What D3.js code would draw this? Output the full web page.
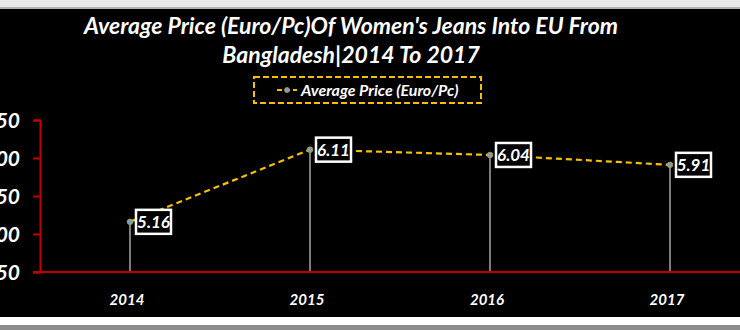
<!DOCTYPE html>
<html>
<head>
<meta charset="utf-8">
<script src="https://cdn.jsdelivr.net/npm/d3@7"></script>
<style>
	body { margin: 0; background: #fff; }
	text { font-family: Lato, "Open Sans", sans-serif; font-weight: bold; font-style: italic; }
</style>
</head>
<body>
<div id="chart"></div>
<script>
// data
var years = ["2014", "2015", "2016", "2017"];
var prices = [5.16, 6.11, 6.04, 5.91];
var yTicks = [4.5, 5.0, 5.5, 6.0, 6.5];
var seriesName = "Average Price (Euro/Pc)";
var titleLines = ["Average Price (Euro/Pc)Of Women's Jeans Into EU From", "Bangladesh|2014 To 2017"];

// magic numbers
var W = 740, H = 330;
var plot = {left: 40, right: 760, top: 120, bottom: 272};

var svg = d3.select("#chart").append("svg")
		.attr("width", W)
		.attr("height", H);

// frame: light strip top, black panel, white strip bottom
svg.append("rect").attr("x", 0).attr("y", 0).attr("width", W).attr("height", H).attr("fill", "#e8e8e8");
svg.append("rect").attr("x", 0).attr("y", 7).attr("width", W).attr("height", 2).attr("fill", "#b0b0b0");
svg.append("rect").attr("x", 0).attr("y", 9).attr("width", W).attr("height", 308).attr("fill", "#000");
svg.append("rect").attr("x", 0).attr("y", 317).attr("width", W).attr("height", 8).attr("fill", "#fff");
svg.append("rect").attr("x", 0).attr("y", 325).attr("width", W).attr("height", 5).attr("fill", "#8c8c8c");

var x = d3.scaleBand()
		.domain(years)
		.range([plot.left, plot.right]);

var y = d3.scaleLinear()
		.domain([4.5, 6.5])
		.range([plot.bottom, plot.top]);

// title
svg.append("g").selectAll("text")
		.data(titleLines)
	.enter().append("text")
		.attr("x", 351)
		.attr("y", function(d, i){ return 34 + i * 29; })
		.attr("text-anchor", "middle")
		.attr("fill", "#fff")
		.attr("font-size", 23)
		.text(function(d){ return d; });

// legend
var legend = svg.append("g").attr("transform", "translate(254,77)");
legend.append("rect")
		.attr("width", 227)
		.attr("height", 26)
		.attr("fill", "none")
		.attr("stroke", "#f5c000")
		.attr("stroke-width", 2)
		.attr("stroke-dasharray", "6,3");
legend.append("line")
		.attr("x1", 23).attr("x2", 43).attr("y1", 13).attr("y2", 13)
		.attr("stroke", "#f5c000").attr("stroke-width", 2).attr("stroke-dasharray", "5,3");
legend.append("circle")
		.attr("cx", 33).attr("cy", 13).attr("r", 2.5)
		.attr("fill", "#6f9fd0").attr("stroke", "#c9a400").attr("stroke-width", 0.8);
legend.append("text")
		.attr("x", 47)
		.attr("y", 19)
		.attr("fill", "#fff")
		.attr("font-size", 16)
		.text(seriesName);

// y axis
var yAxis = svg.append("g")
		.attr("transform", "translate(" + plot.left + ",0)")
		.call(d3.axisLeft(y).tickValues(yTicks).tickFormat(d3.format(".2f")).tickSize(7).tickPadding(13));
yAxis.select(".domain").attr("stroke", "#c00000").attr("stroke-width", 2);
yAxis.selectAll(".tick line").attr("stroke", "#c00000").attr("stroke-width", 2);
yAxis.selectAll(".tick text")
		.attr("fill", "#fff")
		.attr("font-size", 21)
		.attr("font-family", "Lato, sans-serif")
		.attr("dy", "0.36em");

// drop lines
svg.append("g").selectAll("line")
		.data(prices)
	.enter().append("line")
		.attr("x1", function(d, i){ return x(years[i]) + x.bandwidth() / 2; })
		.attr("x2", function(d, i){ return x(years[i]) + x.bandwidth() / 2; })
		.attr("y1", function(d){ return y(d); })
		.attr("y2", plot.bottom)
		.attr("stroke", "#a6a6a6")
		.attr("stroke-width", 1.5);

// x axis
var xAxis = svg.append("g")
		.attr("transform", "translate(0," + plot.bottom + ")")
		.call(d3.axisBottom(x).tickSize(0).tickPadding(22));
xAxis.select(".domain").attr("stroke", "#c00000").attr("stroke-width", 2).attr("d", "M33,0H" + W);
xAxis.selectAll(".tick text")
		.attr("fill", "#fff")
		.attr("font-size", 15)
		.attr("font-family", "Lato, sans-serif")
		.attr("dx", "-3");

// line
var line = d3.line()
		.x(function(d, i){ return x(years[i]) + x.bandwidth() / 2; })
		.y(function(d){ return y(d); });

svg.append("path")
		.datum(prices)
		.attr("d", line)
		.attr("fill", "none")
		.attr("stroke", "#f5c000")
		.attr("stroke-width", 2.2)
		.attr("stroke-dasharray", "6,4");

svg.append("g").selectAll("circle")
		.data(prices)
	.enter().append("circle")
		.attr("cx", function(d, i){ return x(years[i]) + x.bandwidth() / 2; })
		.attr("cy", function(d){ return y(d); })
		.attr("r", 2.8)
		.attr("fill", "#6f9fd0")
		.attr("stroke", "#c9a400")
		.attr("stroke-width", 0.8);

// data labels
var labels = svg.append("g").selectAll("g")
		.data(prices)
	.enter().append("g")
		.attr("transform", function(d, i){ return "translate(" + (x(years[i]) + x.bandwidth() / 2 + 6) + "," + y(d) + ")"; });
labels.append("rect")
		.attr("x", 0)
		.attr("y", -12)
		.attr("width", 35)
		.attr("height", 24)
		.attr("fill", "#000")
		.attr("stroke", "#fff")
		.attr("stroke-width", 2.5);
labels.append("text")
		.attr("x", 17.5)
		.attr("y", 6)
		.attr("text-anchor", "middle")
		.attr("fill", "#fff")
		.attr("font-size", 17)
		.text(function(d){ return d3.format(".2f")(d); });
</script>
</body>
</html>
